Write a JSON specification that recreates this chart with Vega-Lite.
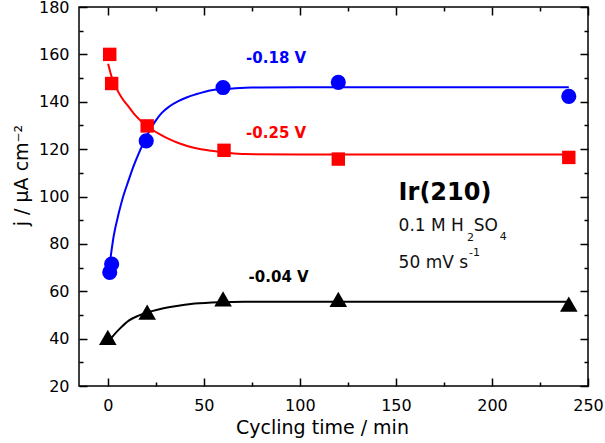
{
  "$schema": "https://vega.github.io/schema/vega-lite/v6.json",
  "width": 509,
  "height": 379,
  "autosize": "none",
  "padding": {"left": 79, "top": 7, "right": 17, "bottom": 57},
  "background": "white",
  "config": {
    "view": {"stroke": "black", "strokeWidth": 1.5},
    "font": "DejaVu Sans",
    "axis": {
      "domain": false, "tickColor": "black", "tickWidth": 1.5,
      "grid": false, "labelColor": "black", "labelFont": "DejaVu Sans", "labelFontSize": 16,
      "titleColor": "black", "titleFont": "DejaVu Sans", "titleFontSize": 19, "titleFontWeight": "normal"
    }
  },
  "datasets": {
    "curves": [
      {"series": "-0.18 V", "t": 1.4, "j": 74},
      {"series": "-0.18 V", "t": 3, "j": 83},
      {"series": "-0.18 V", "t": 5.7, "j": 93},
      {"series": "-0.18 V", "t": 8, "j": 100},
      {"series": "-0.18 V", "t": 10.9, "j": 107},
      {"series": "-0.18 V", "t": 13.5, "j": 113},
      {"series": "-0.18 V", "t": 16, "j": 118},
      {"series": "-0.18 V", "t": 18.5, "j": 122.5},
      {"series": "-0.18 V", "t": 21.2, "j": 127},
      {"series": "-0.18 V", "t": 24.5, "j": 131.5},
      {"series": "-0.18 V", "t": 28.1, "j": 135.3},
      {"series": "-0.18 V", "t": 32, "j": 138},
      {"series": "-0.18 V", "t": 36.7, "j": 140.3},
      {"series": "-0.18 V", "t": 41, "j": 141.8},
      {"series": "-0.18 V", "t": 45.3, "j": 143},
      {"series": "-0.18 V", "t": 54, "j": 144.9},
      {"series": "-0.18 V", "t": 65, "j": 145.6},
      {"series": "-0.18 V", "t": 75, "j": 146},
      {"series": "-0.18 V", "t": 100, "j": 146.1},
      {"series": "-0.18 V", "t": 170, "j": 146.1},
      {"series": "-0.18 V", "t": 240, "j": 146.1},
      {"series": "-0.25 V", "t": 0.2, "j": 156},
      {"series": "-0.25 V", "t": 2, "j": 150.5},
      {"series": "-0.25 V", "t": 4, "j": 146.5},
      {"series": "-0.25 V", "t": 7, "j": 142},
      {"series": "-0.25 V", "t": 10.9, "j": 137.8},
      {"series": "-0.25 V", "t": 14, "j": 134.6},
      {"series": "-0.25 V", "t": 17.8, "j": 131.5},
      {"series": "-0.25 V", "t": 22, "j": 128.8},
      {"series": "-0.25 V", "t": 28.1, "j": 125.8},
      {"series": "-0.25 V", "t": 32, "j": 124.2},
      {"series": "-0.25 V", "t": 36.7, "j": 122.6},
      {"series": "-0.25 V", "t": 45.3, "j": 120.5},
      {"series": "-0.25 V", "t": 54, "j": 119.3},
      {"series": "-0.25 V", "t": 62, "j": 118.5},
      {"series": "-0.25 V", "t": 71.2, "j": 117.9},
      {"series": "-0.25 V", "t": 100, "j": 117.7},
      {"series": "-0.25 V", "t": 170, "j": 117.7},
      {"series": "-0.25 V", "t": 240, "j": 117.7},
      {"series": "-0.04 V", "t": 1.5, "j": 40},
      {"series": "-0.04 V", "t": 3.1, "j": 41.5},
      {"series": "-0.04 V", "t": 6, "j": 44},
      {"series": "-0.04 V", "t": 10.9, "j": 47.6},
      {"series": "-0.04 V", "t": 16, "j": 49.7},
      {"series": "-0.04 V", "t": 23, "j": 51.6},
      {"series": "-0.04 V", "t": 29, "j": 52.8},
      {"series": "-0.04 V", "t": 35, "j": 53.7},
      {"series": "-0.04 V", "t": 45.3, "j": 54.8},
      {"series": "-0.04 V", "t": 58, "j": 55.4},
      {"series": "-0.04 V", "t": 71.2, "j": 55.6},
      {"series": "-0.04 V", "t": 100, "j": 55.6},
      {"series": "-0.04 V", "t": 170, "j": 55.6},
      {"series": "-0.04 V", "t": 240, "j": 55.6}
    ],
    "points": [
      {"series": "-0.18 V", "t": 1, "j": 68},
      {"series": "-0.18 V", "t": 2, "j": 71.5},
      {"series": "-0.18 V", "t": 20, "j": 123.5},
      {"series": "-0.18 V", "t": 60, "j": 146},
      {"series": "-0.18 V", "t": 120, "j": 148.2},
      {"series": "-0.18 V", "t": 240, "j": 142.3},
      {"series": "-0.25 V", "t": 1, "j": 160},
      {"series": "-0.25 V", "t": 2, "j": 147.7},
      {"series": "-0.25 V", "t": 20.5, "j": 129.8},
      {"series": "-0.25 V", "t": 60.5, "j": 119.5},
      {"series": "-0.25 V", "t": 120, "j": 115.8},
      {"series": "-0.25 V", "t": 240, "j": 116.5},
      {"series": "-0.04 V", "t": 0, "j": 40.5},
      {"series": "-0.04 V", "t": 20.5, "j": 51.2},
      {"series": "-0.04 V", "t": 60, "j": 56.8},
      {"series": "-0.04 V", "t": 120, "j": 56.6},
      {"series": "-0.04 V", "t": 240, "j": 54.6}
    ],
    "serieslabels": [
      {"series": "-0.18 V", "t": 72, "j": 158.3},
      {"series": "-0.25 V", "t": 72, "j": 126.9},
      {"series": "-0.04 V", "t": 73.3, "j": 65.9}
    ],
    "notes": [
      {"text": "0.1 M H", "t": 151.4, "j": 87.5},
      {"text": "SO", "t": 190.5, "j": 87.5},
      {"text": "50 mV s", "t": 151.4, "j": 71.8}
    ],
    "smallnotes": [
      {"text": "2", "t": 187, "j": 82.3},
      {"text": "4", "t": 204, "j": 82.8},
      {"text": "-1", "t": 188, "j": 76.1}
    ]
  },
  "resolve": {"axis": {"x": "independent", "y": "independent"}},
  "layer": [
    {
      "data": {"name": "curves"},
      "mark": {"type": "line", "strokeWidth": 2, "interpolate": "monotone"},
      "encoding": {
        "x": {
          "field": "t", "type": "quantitative", "scale": {"domain": [-15, 250], "nice": false, "zero": false},
          "title": "Cycling time / min",
          "axis": {"orient": "bottom", "values": [0, 50, 100, 150, 200, 250], "ticks": false, "labelPadding": 11, "labelFlush": false, "titlePadding": 5, "titleX": 243}
        },
        "y": {
          "field": "j", "type": "quantitative", "scale": {"domain": [20, 180], "nice": false, "zero": false},
          "title": "j / μA cm⁻²",
          "axis": {"orient": "left", "values": [20, 40, 60, 80, 100, 120, 140, 160, 180], "ticks": false, "labelPadding": 10, "labelFlush": false, "titlePadding": 7, "titleY": 168}
        },
        "color": {
          "field": "series", "type": "nominal", "legend": null,
          "scale": {"domain": ["-0.18 V", "-0.25 V", "-0.04 V"], "range": ["#0000ff", "#ff0000", "#000000"]}
        }
      }
    },
    {
      "data": {"name": "points"},
      "mark": {"type": "point", "filled": true, "opacity": 1},
      "encoding": {
        "x": {
          "field": "t", "type": "quantitative",
          "axis": {"orient": "top", "offset": -379, "title": null, "labels": false, "values": [0, 50, 100, 150, 200, 250], "tickSize": 8}
        },
        "y": {
          "field": "j", "type": "quantitative",
          "axis": {"orient": "right", "offset": -509, "title": null, "labels": false, "values": [20, 40, 60, 80, 100, 120, 140, 160, 180], "tickSize": 8}
        },
        "shape": {
          "field": "series", "type": "nominal", "legend": null,
          "scale": {"domain": ["-0.18 V", "-0.25 V", "-0.04 V"], "range": ["circle", "square", "triangle-up"]}
        },
        "size": {
          "condition": [
            {"test": "datum.series === '-0.04 V'", "value": 310},
            {"test": "datum.series === '-0.18 V'", "value": 230}
          ],
          "value": 180
        },
        "color": {"field": "series", "type": "nominal", "legend": null}
      }
    },
    {
      "data": {"name": "serieslabels"},
      "mark": {"type": "text", "align": "left", "baseline": "middle", "fontSize": 15, "fontWeight": "bold", "font": "DejaVu Sans"},
      "encoding": {
        "x": {
          "field": "t", "type": "quantitative",
          "axis": {"orient": "bottom", "offset": -379, "title": null, "labels": false, "values": [0, 50, 100, 150, 200, 250], "tickSize": 8}
        },
        "y": {
          "field": "j", "type": "quantitative",
          "axis": {"orient": "left", "offset": -509, "title": null, "labels": false, "values": [20, 40, 60, 80, 100, 120, 140, 160, 180], "tickSize": 8}
        },
        "text": {"field": "series"},
        "color": {"field": "series", "type": "nominal", "legend": null}
      }
    },
    {
      "data": {"values": [{"text": "Ir(210)", "t": 151.4, "j": 101.6}]},
      "mark": {"type": "text", "align": "left", "baseline": "middle", "fontSize": 24, "fontWeight": "bold", "font": "DejaVu Sans", "color": "black"},
      "encoding": {
        "x": {
          "field": "t", "type": "quantitative",
          "axis": {"orient": "top", "offset": -379, "title": null, "labels": false, "values": [25, 75, 125, 175, 225], "tickSize": 4}
        },
        "y": {
          "field": "j", "type": "quantitative",
          "axis": {"orient": "right", "offset": -509, "title": null, "labels": false, "values": [30, 50, 70, 90, 110, 130, 150, 170], "tickSize": 4}
        },
        "text": {"field": "text"}
      }
    },
    {
      "data": {"name": "notes"},
      "mark": {"type": "text", "align": "left", "baseline": "middle", "fontSize": 17, "font": "DejaVu Sans", "color": "#111"},
      "encoding": {
        "x": {
          "field": "t", "type": "quantitative",
          "axis": {"orient": "bottom", "offset": -379, "title": null, "labels": false, "values": [25, 75, 125, 175, 225], "tickSize": 4}
        },
        "y": {
          "field": "j", "type": "quantitative",
          "axis": {"orient": "left", "offset": -509, "title": null, "labels": false, "values": [30, 50, 70, 90, 110, 130, 150, 170], "tickSize": 4}
        },
        "text": {"field": "text"}
      }
    },
    {
      "data": {"name": "smallnotes"},
      "mark": {"type": "text", "align": "left", "baseline": "middle", "fontSize": 11, "font": "DejaVu Sans", "color": "#111"},
      "encoding": {
        "x": {"field": "t", "type": "quantitative", "axis": null},
        "y": {"field": "j", "type": "quantitative", "axis": null},
        "text": {"field": "text"}
      }
    }
  ]
}
